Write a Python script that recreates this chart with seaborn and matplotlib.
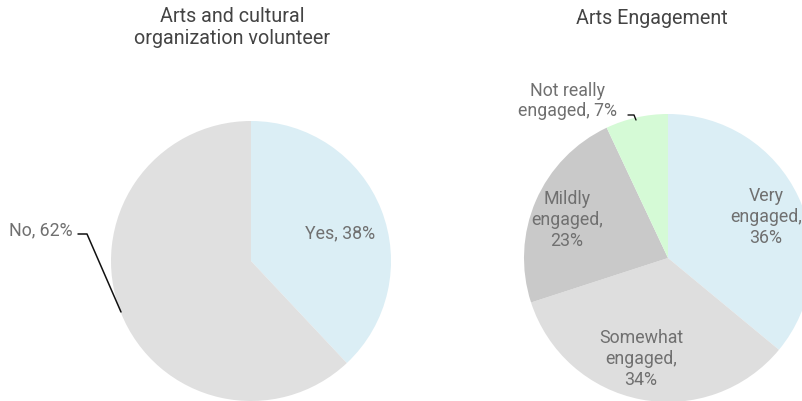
import matplotlib
matplotlib.use("Agg")
import matplotlib.pyplot as plt
import seaborn as sns

# Data
volunteer_labels = ["Yes", "No"]
volunteer_values = [38, 62]
engagement_labels = ["Very engaged", "Somewhat engaged", "Mildly engaged", "Not really engaged"]
engagement_values = [36, 34, 23, 7]

sns.set_theme(style="white")
plt.rcParams["font.family"] = ["Roboto", "DejaVu Sans"]

W, H = 803, 402
fig = plt.figure(figsize=(W / 100, H / 100), dpi=100)
ax = fig.add_axes([0, 0, 1, 1])

def Y(y):
    return H - y

vol_colors = ["#dbeef5", "#e0e0e0"]
eng_colors = ["#dbeef5", "#dedede", "#c9c9c9", "#d5fad6"]

ax.pie(volunteer_values, colors=vol_colors, center=(251, Y(262)), radius=140,
       startangle=90, counterclock=False, frame=True,
       wedgeprops=dict(linewidth=0))
ax.pie(engagement_values, colors=eng_colors, center=(668, Y(259)), radius=144,
       startangle=90, counterclock=False, frame=True,
       wedgeprops=dict(linewidth=0))
ax.set_xlim(0, W)
ax.set_ylim(0, H)
ax.set_aspect("equal")
ax.axis("off")

title_color = "#444444"
label_color = "#707070"
title_fs = 14.2
lab_fs = 12.8
ls = 1.2

ax.text(232, Y(28), "Arts and cultural\norganization volunteer", ha="center", va="center",
        fontsize=title_fs, color=title_color, linespacing=1.2)
ax.text(652, Y(18), "Arts Engagement", ha="center", va="center",
        fontsize=title_fs, color=title_color)

ax.text(340, Y(233), f"{volunteer_labels[0]}, {volunteer_values[0]}%", ha="center", va="center",
        fontsize=lab_fs, color=label_color)
ax.text(41, Y(230), f"{volunteer_labels[1]}, {volunteer_values[1]}%", ha="center", va="center",
        fontsize=lab_fs, color=label_color)
ax.plot([78, 87, 121], [Y(235), Y(235), Y(313)], color="#111111", lw=1.1)

ax.text(766, Y(217), f"Very\nengaged,\n{engagement_values[0]}%", ha="center", va="center",
        fontsize=lab_fs, color=label_color, linespacing=ls)
ax.text(641, Y(359), f"Somewhat\nengaged,\n{engagement_values[1]}%", ha="center", va="center",
        fontsize=lab_fs, color=label_color, linespacing=ls)
ax.text(567, Y(220), f"Mildly\nengaged,\n{engagement_values[2]}%", ha="center", va="center",
        fontsize=lab_fs, color=label_color, linespacing=ls)
ax.text(568, Y(101), f"Not really\nengaged, {engagement_values[3]}%", ha="center", va="center",
        fontsize=lab_fs, color=label_color, linespacing=ls)
ax.plot([628, 634, 636], [Y(116), Y(116), Y(121)], color="#111111", lw=1.0)

fig.savefig("out.png", dpi=100, facecolor="white")
